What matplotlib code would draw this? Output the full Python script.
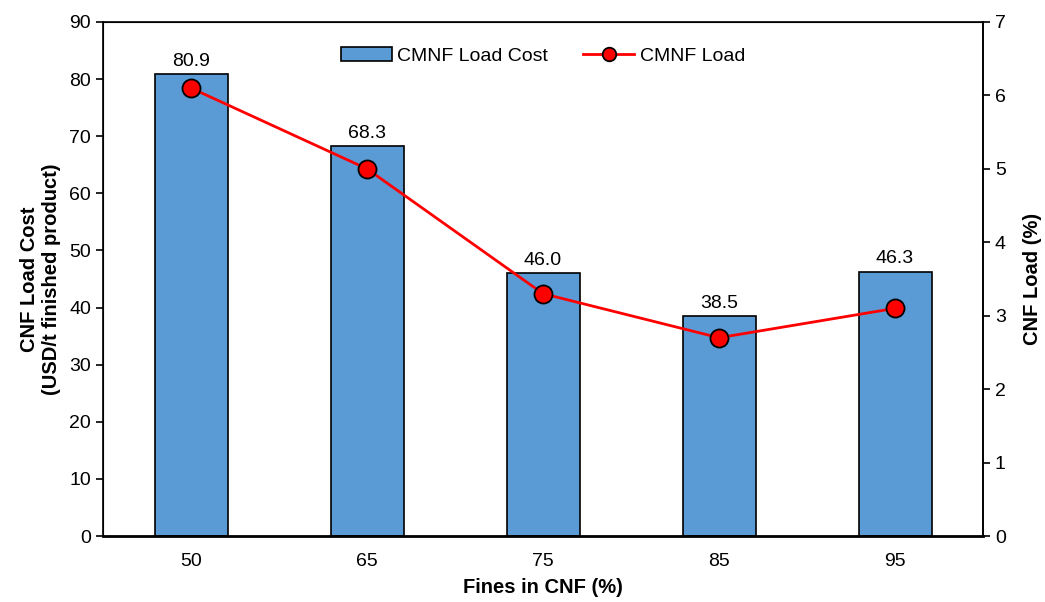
import numpy as np
import matplotlib.pyplot as plt

plt.rcParams['font.family'] = ['Liberation Sans', 'DejaVu Sans']

# data
fines = ['50', '65', '75', '85', '95']
load_cost = [80.9, 68.3, 46.0, 38.5, 46.3]
load_pct = [6.1, 5.0, 3.3, 2.7, 3.1]

x = np.arange(len(fines))

fig, ax = plt.subplots(figsize=(10.45, 6.02), dpi=100)
fig.subplots_adjust(left=0.0986, right=0.9407, top=0.9635, bottom=0.1096)

bars = ax.bar(x, load_cost, width=0.415, color='#5B9BD5', edgecolor='black',
              linewidth=1.2, label='CMNF Load Cost', zorder=2)
for xi, v in zip(x, load_cost):
    ax.annotate(f'{v:.1f}', (xi, v), xytext=(0, 3), textcoords='offset points',
                ha='center', va='bottom', fontsize=14)

ax.set_xlim(-0.5, len(fines) - 0.5)
ax.set_ylim(0, 90)
ax.set_yticks(np.arange(0, 91, 10))
ax.set_xticks(x)
ax.set_xticklabels(fines)
ax.tick_params(axis='x', length=0, pad=12, labelsize=14)
ax.tick_params(axis='y', direction='out', length=5, width=1.2, labelsize=14)
ax.set_xlabel('Fines in CNF (%)', fontsize=14.5, fontweight='bold', labelpad=6)
ax.set_ylabel('CNF Load Cost\n(USD/t finished product)', fontsize=14.5,
              fontweight='bold', labelpad=6)
for s in ['left', 'right', 'top']:
    ax.spines[s].set_linewidth(1.2)
ax.spines['bottom'].set_linewidth(2)

ax2 = ax.twinx()
ln, = ax2.plot(x, load_pct, color='red', linewidth=2, marker='o', markersize=13,
               markerfacecolor='red', markeredgecolor='black', markeredgewidth=1.3,
               label='CMNF Load', zorder=3)
ax2.set_ylim(0, 7)
ax2.set_yticks(np.arange(0, 8, 1))
ax2.tick_params(axis='y', direction='out', length=5, width=1.2, labelsize=14)
ax2.set_ylabel('CNF Load (%)', fontsize=14.5, fontweight='bold', labelpad=12)
ax2.spines['right'].set_linewidth(1.2)

ax2.legend([bars, ln], ['CMNF Load Cost', 'CMNF Load'], loc='upper center',
           bbox_to_anchor=(0.5, 0.985), ncol=2, frameon=False, fontsize=14,
           handlelength=2.6, columnspacing=1.8, handletextpad=0.3, markerscale=0.75)

fig.savefig('out.png', dpi=100)
